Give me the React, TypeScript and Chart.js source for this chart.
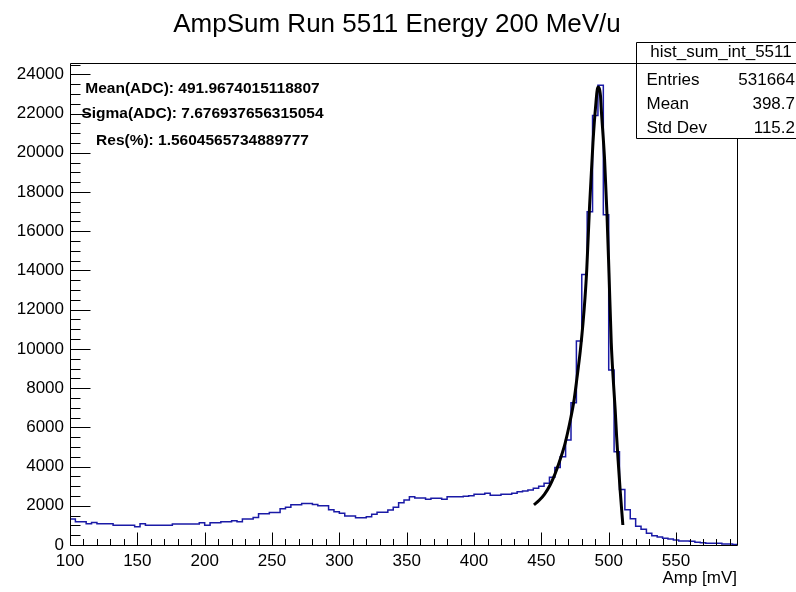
import { useEffect, useRef } from "react";
import { Chart, registerables } from "chart.js";

Chart.register(...registerables);

// ---------- data ----------
const TITLE = "AmpSum Run 5511 Energy 200 MeV/u";
const X_TITLE = "Amp [mV]";
const BIN_MIN = 100;
const BIN_WIDTH = 4;
const COUNTS = [
  1330, 1190, 1190, 1090, 1150, 1090, 1090, 1090, 1010, 1010,
  1010, 1010, 935, 1080, 1010, 1010, 1010, 1010, 1010, 1070,
  1070, 1070, 1070, 1070, 1140, 1010, 1140, 1140, 1190, 1190,
  1240, 1190, 1330, 1330, 1400, 1590, 1590, 1660, 1660, 1850,
  1920, 2050, 2050, 2115, 2115, 2060, 2000, 2000, 1800, 1700,
  1620, 1480, 1480, 1395, 1395, 1446, 1565, 1667, 1667, 1786,
  1922, 2160, 2296, 2466, 2398, 2398, 2330, 2381, 2381, 2330,
  2466, 2466, 2466, 2490, 2517, 2585, 2585, 2636, 2534, 2534,
  2585, 2585, 2636, 2721, 2760, 2806, 2891, 3000, 3150, 3450,
  3950, 4500, 5350, 7250, 10400, 13800, 17000, 21900, 23450, 16840,
  8930, 4760, 2830, 1800, 1340, 960, 800, 595, 476, 408,
  340, 300, 255, 210, 204, 190, 136, 120, 85, 85,
  85, 51, 51, 30,
];
const FIT_X = [
  444.5, 448.4, 452.4, 456.4, 459.4, 463.4, 466.9, 469.4, 471.9, 474.4,
  476.4, 478.9, 480.9, 482.4, 483.7, 485.8, 488.3, 490.2, 492.0, 493.9,
  494.4, 496.9, 498.7, 500.2, 501.9, 503.4, 504.8, 505.9, 507.0, 508.6,
  510.5,
];
const FIT_Y = [
  2041, 2280, 2600, 3050, 3500, 4250, 5000, 5700, 6500, 7450,
  8500, 9900, 11300, 12600, 14050, 17300, 20500, 22300, 23350, 22900,
  22300, 19700, 16900, 13900, 10300, 8400, 6900, 5500, 4300, 2700,
  1020,
];
const X_MIN = 100;
const X_MAX = 596;
const Y_MIN = 0;
const Y_MAX = 24580;
const X_TICKS = [100, 150, 200, 250, 300, 350, 400, 450, 500, 550];
const Y_TICKS = [0, 2000, 4000, 6000, 8000, 10000, 12000, 14000, 16000, 18000, 20000, 22000, 24000];
const X_MINOR_STEP = 10;
const Y_MINOR_STEP = 500;
const FIT_TEXT = [
  "Mean(ADC): 491.9674015118807",
  "Sigma(ADC): 7.676937656315054",
  "Res(%): 1.5604565734889777",
];
const STATS_NAME = "hist_sum_int_5511";
const STATS_LABELS = ["Entries", "Mean", "Std Dev"];
const STATS_VALUES = ["531664", "398.7", "115.2"];

const FONT = '"Liberation Sans", Arial, Helvetica, sans-serif';

const overlay = {
  id: "rootStyle",
  afterDraw(chart: any) {
    const ctx = chart.ctx as CanvasRenderingContext2D;
    const xs = chart.scales.x;
    const ys = chart.scales.y;
    const a = chart.chartArea;
    const px = (p: number) => Math.round(p) + 0.5;
    ctx.save();
    ctx.strokeStyle = "#000";
    ctx.lineWidth = 1;

    // frame
    const L = px(a.left), R = px(a.right - 1), T = px(a.top), B = px(a.bottom);
    ctx.beginPath();
    ctx.rect(L, T, R - L, B - T);
    ctx.stroke();

    // x ticks (inside, from bottom)
    ctx.beginPath();
    for (let v = X_MIN; v <= X_MAX; v += X_MINOR_STEP) {
      const x = px(xs.getPixelForValue(v));
      const major = X_TICKS.includes(v);
      const len = major ? 13 : 6.5;
      ctx.moveTo(x, B);
      ctx.lineTo(x, B - len);
    }
    ctx.stroke();

    // y ticks (inside, from left)
    ctx.beginPath();
    for (let v = Y_MIN; v <= Y_MAX; v += Y_MINOR_STEP) {
      const y = px(ys.getPixelForValue(v));
      const major = Y_TICKS.includes(v);
      const len = major ? 20 : 10;
      ctx.moveTo(L, y);
      ctx.lineTo(L + len, y);
    }
    ctx.stroke();

    // tick labels
    ctx.fillStyle = "#000";
    ctx.font = `17px ${FONT}`;
    ctx.textAlign = "right";
    ctx.textBaseline = "middle";
    Y_TICKS.forEach((v) => {
      ctx.fillText(String(v), 64, ys.getPixelForValue(v));
    });
    ctx.textAlign = "center";
    ctx.textBaseline = "alphabetic";
    X_TICKS.forEach((v) => {
      ctx.fillText(String(v), xs.getPixelForValue(v), 566);
    });

    // axis title
    ctx.textAlign = "right";
    ctx.fillText(X_TITLE, a.right - 1, 583);

    // title
    ctx.textAlign = "center";
    ctx.font = `26px ${FONT}`;
    ctx.fillText(TITLE, 397, 32);

    // fit annotation
    ctx.font = `bold 15.5px ${FONT}`;
    const fitBase = [93, 118, 145];
    FIT_TEXT.forEach((t, i) => ctx.fillText(t, 202.5, fitBase[i]));

    // stats box
    const bx = 636.5, by = 42.5, bw = 170, bh = 96;
    ctx.fillStyle = "#fff";
    ctx.fillRect(bx, by, bw, bh);
    ctx.beginPath();
    ctx.rect(bx, by, bw, bh);
    ctx.moveTo(bx, T);
    ctx.lineTo(bx + bw, T);
    ctx.stroke();
    ctx.fillStyle = "#000";
    ctx.font = `17px ${FONT}`;
    ctx.textAlign = "center";
    ctx.fillText(STATS_NAME, 721, 57);
    const rowBase = [85, 108.5, 132.5];
    STATS_LABELS.forEach((l, i) => {
      ctx.textAlign = "left";
      ctx.fillText(l, 646.5, rowBase[i]);
      ctx.textAlign = "right";
      ctx.fillText(STATS_VALUES[i], 795, rowBase[i]);
    });
    ctx.restore();
  },
};

export default function App() {
  const ref = useRef<HTMLCanvasElement | null>(null);
  useEffect(() => {
    if (!ref.current) return;
    const histPoints = COUNTS.map((c, i) => ({ x: BIN_MIN + i * BIN_WIDTH, y: c }));
    histPoints.push({ x: BIN_MIN + COUNTS.length * BIN_WIDTH, y: COUNTS[COUNTS.length - 1] });
    const fitPoints = FIT_X.map((x, i) => ({ x, y: FIT_Y[i] }));
    const chart = new Chart(ref.current, {
      type: "line",
      data: {
        datasets: [
          {
            data: fitPoints,
            borderColor: "#000",
            borderWidth: 3,
            pointRadius: 0,
            tension: 0.4,
            cubicInterpolationMode: "monotone",
            fill: false,
            order: 0,
          },
          {
            data: histPoints,
            borderColor: "#1a1aa6",
            borderWidth: 1.5,
            pointRadius: 0,
            stepped: "before",
            fill: false,
            order: 1,
          },
        ],
      },
      options: {
        animation: false,
        responsive: false,
        devicePixelRatio: 1,
        layout: { padding: { left: 70, top: 63, right: 58, bottom: 47 } },
        plugins: { legend: { display: false }, tooltip: { enabled: false }, title: { display: false } },
        scales: {
          x: { type: "linear", min: X_MIN, max: X_MAX, display: false },
          y: { type: "linear", min: Y_MIN, max: Y_MAX, display: false },
        },
      },
      plugins: [overlay],
    } as any);
    return () => chart.destroy();
  }, []);
  return (
    <div style={{ position: "absolute", left: 0, top: 0, width: 796, height: 592, background: "#fff" }}>
      <canvas ref={ref} width={796} height={592} style={{ width: 796, height: 592, display: "block" }} />
    </div>
  );
}
